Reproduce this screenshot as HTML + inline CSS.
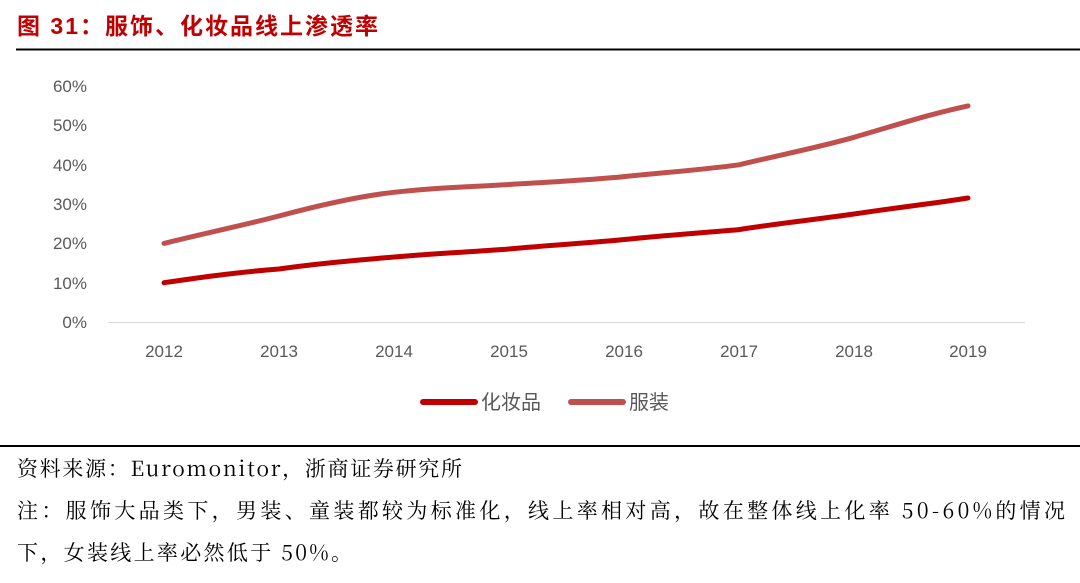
<!DOCTYPE html>
<html><head><meta charset="utf-8"><style>
body{margin:0;background:#fff;width:1080px;height:578px;overflow:hidden;font-family:"Liberation Sans","Noto Sans CJK SC",sans-serif}
</style></head><body>
<svg width="1080" height="578" xmlns="http://www.w3.org/2000/svg">
<text x="17" y="34" font-size="23" font-weight="bold" fill="#c00000" textLength="361" lengthAdjust="spacing" font-family="Liberation Sans,Noto Sans CJK SC,sans-serif">图  31：服饰、化妆品线上渗透率</text>
<line x1="16" y1="49.5" x2="1080" y2="49.5" stroke="#000" stroke-width="2"/>
<g font-size="17" fill="#595959" text-anchor="end" font-family="Liberation Sans,sans-serif">
<text x="87" y="92">60%</text><text x="87" y="131">50%</text><text x="87" y="171">40%</text>
<text x="87" y="210">30%</text><text x="87" y="249">20%</text><text x="87" y="289">10%</text><text x="87" y="328">0%</text>
</g>
<line x1="108" y1="322.5" x2="1025" y2="322.5" stroke="#d9d9d9" stroke-width="1"/>
<g font-size="17" fill="#595959" text-anchor="middle" font-family="Liberation Sans,sans-serif">
<text x="164" y="357">2012</text><text x="279" y="357">2013</text><text x="394" y="357">2014</text><text x="509" y="357">2015</text>
<text x="624" y="357">2016</text><text x="739" y="357">2017</text><text x="854" y="357">2018</text><text x="968" y="357">2019</text>
</g>
<path d="M164,243.4 C210,232 240,226 279,216 C320,205 360,196 394,192.3 C440,187 470,187 509,184.5 C550,182 590,180 624,176.6 C670,172 700,170 739,164.8 C780,155 820,147 854,137.3 C900,124 930,114 968,105.9" fill="none" stroke="#c0504d" stroke-width="5" stroke-linecap="round"/>
<path d="M164,282.7 C210,276 240,272 279,269 C320,263 360,260 394,257 C440,253 470,252 509,249 C550,245 590,243 624,239.5 C670,235 700,233 739,229.6 C780,223 820,219 854,214 C900,207 930,204 968,198" fill="none" stroke="#c00000" stroke-width="5" stroke-linecap="round"/>
<line x1="423" y1="402" x2="475" y2="402" stroke="#c00000" stroke-width="6" stroke-linecap="round"/>
<text x="481" y="409" font-size="20" fill="#595959">化妆品</text>
<line x1="571" y1="402" x2="623" y2="402" stroke="#c0504d" stroke-width="6" stroke-linecap="round"/>
<text x="629" y="409" font-size="20" fill="#595959">服装</text>
<line x1="0" y1="446" x2="1080" y2="446" stroke="#000" stroke-width="2"/>
<g font-size="21" fill="#000" font-family="Noto Serif CJK SC,Liberation Serif,serif">
<text x="17" y="476" textLength="445" lengthAdjust="spacing">资料来源：Euromonitor，浙商证券研究所</text>
<text x="17" y="518" textLength="1048" lengthAdjust="spacing">注：服饰大品类下，男装、童装都较为标准化，线上率相对高，故在整体线上化率 50-60%的情况</text>
<text x="17" y="560" textLength="335" lengthAdjust="spacing">下，女装线上率必然低于 50%。</text>
</g>
</svg>
</body></html>
